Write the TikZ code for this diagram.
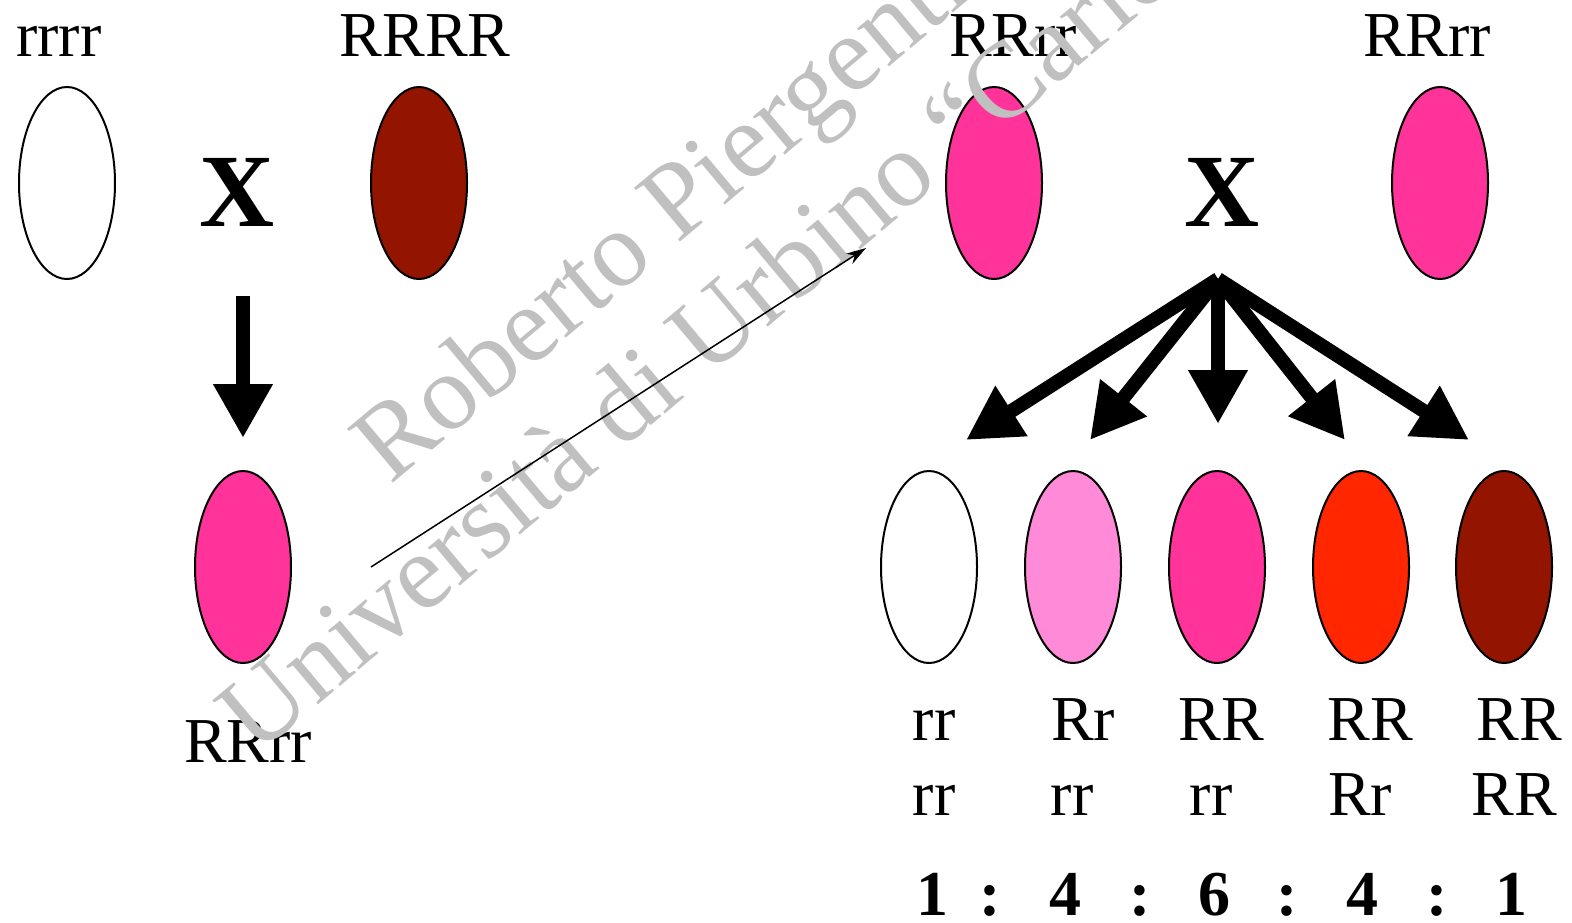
\documentclass[tikz,border=0pt]{standalone}
\usepackage{fontspec}
\setmainfont{Liberation Serif}
\usetikzlibrary{shapes.geometric,arrows.meta}
\definecolor{pinkA}{RGB}{255,51,153}
\definecolor{pinkL}{RGB}{255,138,216}
\definecolor{redA}{RGB}{255,38,0}
\definecolor{brownA}{RGB}{147,21,0}
\definecolor{wm}{RGB}{192,192,192}
\begin{document}
\begin{tikzpicture}[x=0.5pt,y=-0.5pt,
 cell/.style={ellipse,draw=black,line width=1pt,minimum width=48pt,minimum height=96pt,inner sep=0pt},
 lbl/.style={anchor=base,inner sep=0pt,font=\fontsize{32}{38}\selectfont},
 cross/.style={anchor=base,inner sep=0pt,font=\fontsize{52}{60}\selectfont\bfseries},
 num/.style={anchor=base,inner sep=0pt,font=\fontsize{32}{38}\selectfont\bfseries},
 fat/.style={line width=7pt,-{Triangle[length=27pt,width=28pt]}},
 thinarrow/.style={line width=0.75pt,-{Stealth[length=10pt,width=6pt]}},
 wmark/.style={anchor=base west,rotate=40,text=wm,inner sep=0pt,font=\fontsize{54}{60}\selectfont}]
\useasboundingbox (0,0) rectangle (1572,922);
% parents
\node[lbl] (l1) at (59,56) {rrrr};
\node[lbl] (l2) at (425,56) {RRRR};
\node[cell,fill=white] (p1) at (67,183) {};
\node[cell,fill=brownA] (p2) at (419,183) {};
\node[cross] (x1) at (237,226) {X};
\coordinate (d1) at (243,296);
\coordinate (d2) at (243,438);
\draw[fat] (d1) -- (d2);
\node[cell,fill=pinkA] (f1) at (243,567) {};
\node[lbl] (l3) at (248,762) {RRrr};
% F1 cross
\node[lbl] (l4) at (1013,56) {RRrr};
\node[lbl] (l5) at (1427,56) {RRrr};
\node[cell,fill=pinkA] (g1) at (994,183) {};
\node[cell,fill=pinkA] (g2) at (1440,183) {};
\node[cross] (x2) at (1222,226) {X};
\coordinate (ap) at (1218,279);
\coordinate (e1) at (966,440);
\coordinate (e2) at (1090,440);
\coordinate (e3) at (1218,424);
\coordinate (e4) at (1345,440);
\coordinate (e5) at (1469,440);
\foreach \e in {e1,e2,e3,e4,e5} \draw[fat,line join=miter] (ap) -- (\e);
% F2
\node[cell,fill=white] (c1) at (929,567) {};
\node[cell,fill=pinkL] (c2) at (1073,567) {};
\node[cell,fill=pinkA] (c3) at (1217,567) {};
\node[cell,fill=redA] (c4) at (1361,567) {};
\node[cell,fill=brownA] (c5) at (1504,567) {};
\node[lbl] (a1) at (934,740) {rr};
\node[lbl] (a2) at (1083,740) {Rr};
\node[lbl] (a3) at (1221,740) {RR};
\node[lbl] (a4) at (1370,740) {RR};
\node[lbl] (a5) at (1519,740) {RR};
\node[lbl] (b1) at (934,815) {rr};
\node[lbl] (b2) at (1072,815) {rr};
\node[lbl] (b3) at (1211,815) {rr};
\node[lbl] (b4) at (1360,815) {Rr};
\node[lbl] (b5) at (1514,815) {RR};
\node[num] (n1) at (932,915) {1};
\node[num] (k1) at (990,915) {:};
\node[num] (n2) at (1065,915) {4};
\node[num] (k2) at (1140,915) {:};
\node[num] (n3) at (1214,915) {6};
\node[num] (k3) at (1287,915) {:};
\node[num] (n4) at (1362,915) {4};
\node[num] (k4) at (1437,915) {:};
\node[num] (n5) at (1511,915) {1};
% watermark
\begin{scope}
\clip (0,0) rectangle (1572,922);
\node[wmark] (w1) at (390,486) {Roberto Piergentili};
\node[wmark] (w2) at (256,757) {Università di Urbino “Carlo Bo”};
\end{scope}
% thin arrow (drawn over the watermark)
\coordinate (t1) at (371,567);
\coordinate (t2) at (866,248);
\draw[thinarrow] (t1) -- (t2);
\end{tikzpicture}
\end{document}
